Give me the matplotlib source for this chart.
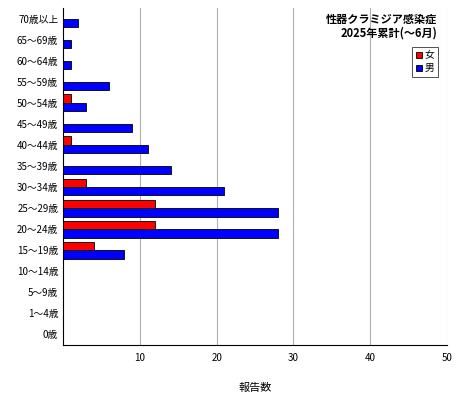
import matplotlib.pyplot as plt
import numpy as np

plt.rcParams['font.family'] = ['Noto Sans CJK JP', 'DejaVu Sans']

ages = ["0歳", "1～4歳", "5～9歳", "10～14歳", "15～19歳", "20～24歳", "25～29歳",
        "30～34歳", "35～39歳", "40～44歳", "45～49歳", "50～54歳", "55～59歳",
        "60～64歳", "65～69歳", "70歳以上"]
female = [0, 0, 0, 0, 4, 12, 12, 3, 0, 1, 0, 1, 0, 0, 0, 0]
male = [0, 0, 0, 0, 8, 28, 28, 21, 14, 11, 9, 3, 6, 1, 1, 2]

fig = plt.figure(figsize=(4.6, 4.0), dpi=100)
ax = fig.add_axes([0.137, 0.1375, 0.835, 0.8425])
y = np.arange(len(ages))
h = 0.4
ax.barh(y + h / 2, female, height=h, color="#ff0000", edgecolor="black", linewidth=0.6, label="女", zorder=3)
ax.barh(y - h / 2, male, height=h, color="#0000ff", edgecolor="black", linewidth=0.6, label="男", zorder=3)

ax.set_xlim(0, 50)
ax.set_ylim(-0.5, len(ages) - 0.5)
ax.set_xticks([10, 20, 30, 40, 50])
ax.set_yticks(y)
ax.set_yticklabels(ages, fontsize=7)
ax.tick_params(axis="x", labelsize=7, length=0, pad=6)
ax.tick_params(axis="y", length=0)
ax.grid(True, axis="x", color="#b0b0b0", linewidth=0.8, zorder=0)
for s in ["top", "right"]:
    ax.spines[s].set_visible(False)
ax.set_xlabel("報告数", fontsize=8, labelpad=14)

ax.text(0.975, 0.985, "性器クラミジア感染症\n2025年累計(～6月)", transform=ax.transAxes,
        ha="right", va="top", fontsize=8, fontweight="bold", linespacing=1.0)
leg = ax.legend(loc="upper right", bbox_to_anchor=(0.99, 0.90), fontsize=7, frameon=True,
                fancybox=False, edgecolor="black", handlelength=0.6, handleheight=0.6,
                handletextpad=0.3, borderpad=0.4, labelspacing=0.3)
leg.get_frame().set_linewidth(0.6)

fig.savefig("out.png")
